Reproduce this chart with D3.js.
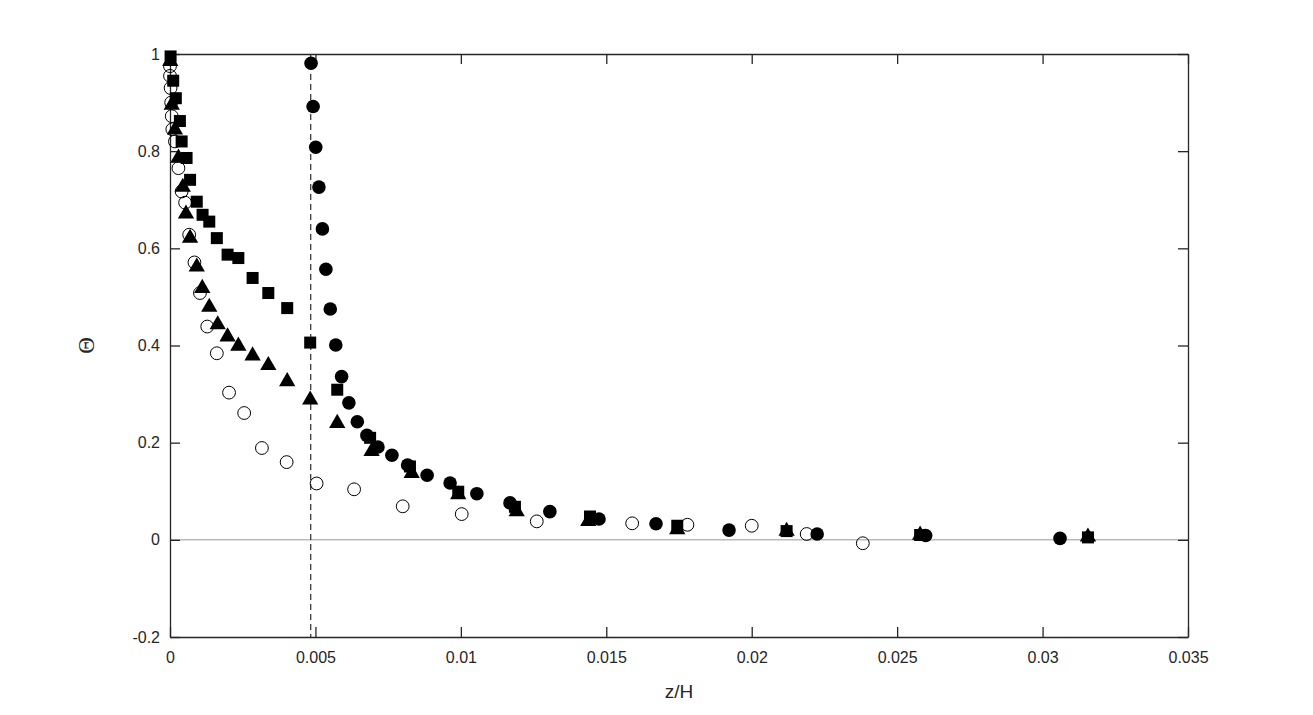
<!DOCTYPE html>
<html><head><meta charset="utf-8">
<script src="https://cdn.jsdelivr.net/npm/d3@7"></script>
<style>body{margin:0;background:#fff}svg{display:block}</style>
</head><body>
<svg id="chart" width="1313" height="715"></svg>
<script>
const xTicks = [0, 0.005, 0.01, 0.015, 0.02, 0.025, 0.03, 0.035];
const xTickLabels = ["0", "0.005", "0.01", "0.015", "0.02", "0.025", "0.03", "0.035"];
const yTicks = [-0.2, 0, 0.2, 0.4, 0.6, 0.8, 1];
const yTickLabels = ["-0.2", "0", "0.2", "0.4", "0.6", "0.8", "1"];
const xLabel = "z/H";
const yLabel = "\u0398";
const dashedX = 0.00484;

const filledCircleX = [0.00485,0.00492,0.00501,0.00512,0.00524,0.00536,0.00551,0.00570,0.00590,0.00615,0.00644,0.00677,0.00715,0.00763,0.00817,0.00884,0.00963,0.01055,0.01169,0.01306,0.01475,0.01671,0.01922,0.02225,0.02598,0.03060];
const filledCircleY = [0.981,0.892,0.808,0.726,0.640,0.557,0.475,0.401,0.336,0.282,0.243,0.215,0.191,0.174,0.154,0.133,0.117,0.095,0.076,0.058,0.043,0.033,0.020,0.012,0.009,0.003];

const squareX = [0.00002,0.00011,0.00020,0.00034,0.00040,0.00057,0.00069,0.00092,0.00112,0.00135,0.00161,0.00198,0.00235,0.00284,0.00338,0.00403,0.00482,0.00575,0.00688,0.00825,0.00991,0.01186,0.01444,0.01744,0.02120,0.02579,0.03156];
const squareY = [0.995,0.945,0.909,0.862,0.820,0.786,0.741,0.696,0.669,0.655,0.621,0.587,0.580,0.539,0.508,0.477,0.406,0.309,0.210,0.151,0.099,0.068,0.048,0.029,0.018,0.010,0.005];

const triangleX = [0.00001,0.00006,0.00017,0.00029,0.00044,0.00055,0.00069,0.00092,0.00111,0.00135,0.00164,0.00198,0.00235,0.00284,0.00338,0.00403,0.00482,0.00575,0.00693,0.00831,0.00991,0.01192,0.01438,0.01744,0.02120,0.02579,0.03156];
const triangleY = [0.985,0.895,0.844,0.786,0.726,0.671,0.621,0.562,0.518,0.479,0.443,0.418,0.399,0.379,0.359,0.326,0.288,0.240,0.182,0.137,0.093,0.058,0.038,0.021,0.018,0.010,0.006];

const openCircleX = [0.00000,0.00000,0.00002,0.00004,0.00006,0.00008,0.00017,0.00029,0.00040,0.00052,0.00066,0.00084,0.00103,0.00128,0.00161,0.00203,0.00255,0.00316,0.00401,0.00504,0.00633,0.00800,0.01003,0.01261,0.01589,0.01779,0.02000,0.02189,0.02382];
const openCircleY = [0.975,0.955,0.930,0.900,0.872,0.845,0.820,0.765,0.717,0.694,0.628,0.571,0.508,0.439,0.384,0.303,0.261,0.189,0.160,0.116,0.104,0.069,0.053,0.038,0.034,0.031,0.029,0.012,-0.007];

const svg = d3.select("#chart");
const L = 170, R = 1188, T = 54, B = 637;
const x = d3.scaleLinear().domain([0, 0.035]).range([L, R]);
const y = d3.scaleLinear().domain([-0.2, 1]).range([B, T]);
const axisColor = "#262626";
const font = "'Liberation Sans', Arial, sans-serif";

// zero line
svg.append("line").attr("x1", L).attr("x2", R).attr("y1", y(0)).attr("y2", y(0))
  .attr("stroke", "#999").attr("stroke-width", 1);

// dashed vertical
svg.append("line").attr("x1", x(dashedX)).attr("x2", x(dashedX)).attr("y1", T).attr("y2", B)
  .attr("stroke", "#000").attr("stroke-width", 1).attr("stroke-dasharray", "6,4");

// axes
const tickLen = 10;
const xAxisB = d3.axisBottom(x).tickValues(xTicks).tickFormat((d,i)=>xTickLabels[i]).tickSizeInner(-tickLen).tickSizeOuter(0).tickPadding(15);
const xAxisT = d3.axisTop(x).tickValues(xTicks).tickFormat("").tickSizeInner(-tickLen).tickSizeOuter(0);
const yAxisL = d3.axisLeft(y).tickValues(yTicks).tickFormat((d,i)=>yTickLabels[i]).tickSizeInner(-tickLen).tickSizeOuter(0).tickPadding(10);
const yAxisR = d3.axisRight(y).tickValues(yTicks).tickFormat("").tickSizeInner(-tickLen).tickSizeOuter(0);

function style(g){
  g.selectAll("path.domain").attr("stroke", axisColor).attr("stroke-width", 1.3);
  g.selectAll(".tick line").attr("stroke", axisColor).attr("stroke-width", 1.3);
  g.selectAll(".tick text").attr("fill", axisColor).style("font-family", font).style("font-size", "16px");
}
svg.append("g").attr("transform", `translate(0,${B})`).call(xAxisB).call(style);
svg.append("g").attr("transform", `translate(0,${T})`).call(xAxisT).call(style);
svg.append("g").attr("transform", `translate(${L},0)`).call(yAxisL).call(style);
svg.append("g").attr("transform", `translate(${R},0)`).call(yAxisR).call(style);

// labels
svg.append("text").attr("x", (L+R)/2).attr("y", 698).attr("text-anchor","middle")
  .attr("fill", axisColor).style("font-family", font).style("font-size","19px").text(xLabel);
svg.append("text").attr("transform", `translate(94,${y(0.4)}) rotate(-90)`).attr("text-anchor","middle")
  .attr("fill", axisColor).style("font-family", "'Liberation Serif', 'Times New Roman', serif").style("font-size","23px").text(yLabel);

const marks = svg.append("g");
const zip = (a,b)=>a.map((v,i)=>[v,b[i]]);

// open circles
marks.append("g").selectAll("circle").data(zip(openCircleX, openCircleY)).join("circle")
  .attr("cx", d=>x(d[0])).attr("cy", d=>y(d[1])).attr("r", 6.4)
  .attr("fill", "none").attr("stroke", "#000").attr("stroke-width", 1);

// filled circles
marks.append("g").selectAll("circle").data(zip(filledCircleX, filledCircleY)).join("circle")
  .attr("cx", d=>x(d[0])).attr("cy", d=>y(d[1])).attr("r", 6.8).attr("fill", "#000");

// squares
const sq = 12;
marks.append("g").selectAll("rect").data(zip(squareX, squareY)).join("rect")
  .attr("x", d=>x(d[0]) - sq/2).attr("y", d=>y(d[1]) - sq/2).attr("width", sq).attr("height", sq).attr("fill", "#000");

// triangles
const tri = d3.symbol().type(d3.symbolTriangle).size(115);
marks.append("g").selectAll("path").data(zip(triangleX, triangleY)).join("path")
  .attr("d", tri).attr("transform", d=>`translate(${x(d[0])},${y(d[1])})`).attr("fill", "#000");
</script>
</body></html>
